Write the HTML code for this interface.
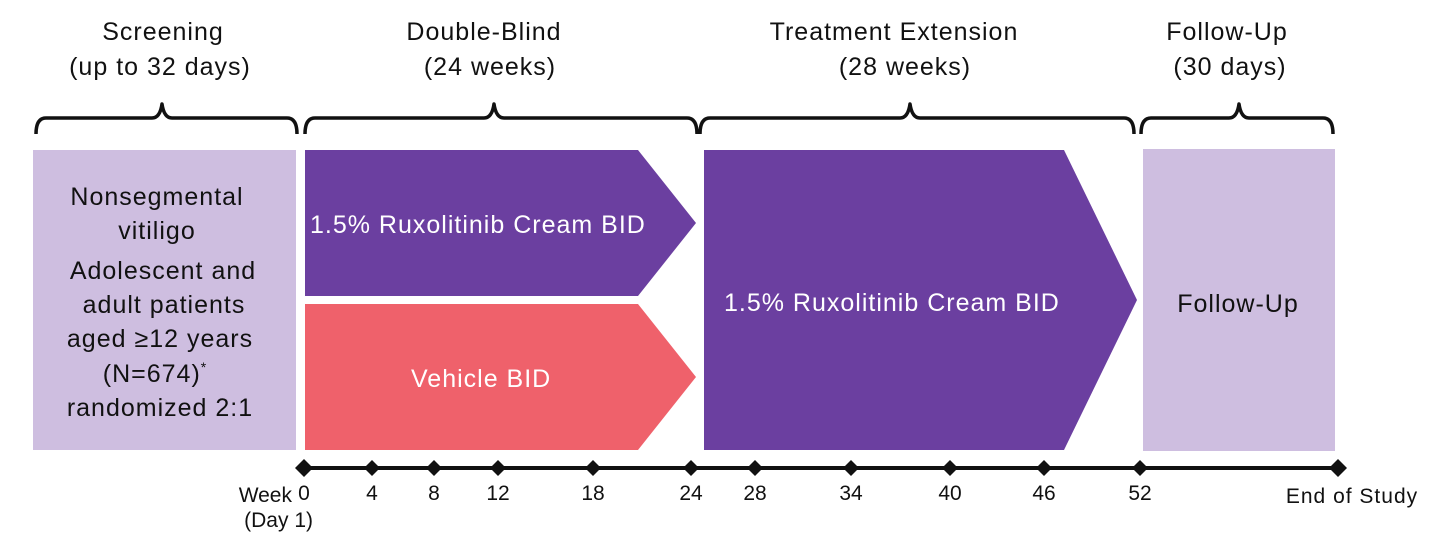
<!DOCTYPE html>
<html><head><meta charset="utf-8"><style>
html,body{margin:0;padding:0;background:#fff;}
svg{display:block;}
text{font-family:"Liberation Sans",sans-serif;}
</style></head><body>
<svg width="1440" height="536" viewBox="0 0 1440 536" xmlns="http://www.w3.org/2000/svg">
<g font-size="25" fill="#111" text-anchor="middle" letter-spacing="1">
<text x="163" y="40">Screening</text>
<text x="160" y="75">(up to 32 days)</text>
<text x="484" y="40">Double-Blind</text>
<text x="490" y="75">(24 weeks)</text>
<text x="894" y="40">Treatment Extension</text>
<text x="905" y="75">(28 weeks)</text>
<text x="1227" y="40">Follow-Up</text>
<text x="1230" y="75">(30 days)</text>
</g>
<g fill="none" stroke="#111" stroke-width="3.5" stroke-linejoin="round">
<path d="M36,134 Q36,118 46,118 L152,118 Q160,118 162,104 Q164,118 172,118 L287,118 Q297,118 297,134"/>
<path d="M305,134 Q305,118 315,118 L484,118 Q492,118 494,104 Q496,118 504,118 L687,118 Q697,118 697,134"/>
<path d="M700,134 Q700,118 710,118 L900,118 Q908,118 910,104 Q912,118 920,118 L1124,118 Q1134,118 1134,134"/>
<path d="M1141,134 Q1141,118 1151,118 L1229,118 Q1237,118 1239,104 Q1241,118 1249,118 L1323,118 Q1333,118 1333,134"/>
</g>
<rect x="33" y="150" width="263" height="300" fill="#cebee0"/>
<rect x="1143" y="149" width="192" height="302" fill="#cebee0"/>
<polygon points="305,150 638,150 696,223 638,296 305,296" fill="#6b3fa0"/>
<polygon points="305,304 638,304 696,377 638,450 305,450" fill="#ef616b"/>
<polygon points="704,150 1064,150 1137,300 1064,450 704,450" fill="#6b3fa0"/>
<g font-size="25" fill="#111" text-anchor="middle" letter-spacing="1">
<text x="157" y="205">Nonsegmental</text>
<text x="157" y="239">vitiligo</text>
<text x="163" y="279">Adolescent and</text>
<text x="164" y="313">adult patients</text>
<text x="160" y="347">aged ≥12 years</text>
<text x="155" y="382">(N=674)<tspan font-size="14" dy="-10">*</tspan></text>
<text x="160" y="416">randomized 2:1</text>
<text x="1238" y="312">Follow-Up</text>
</g>
<g font-size="25" fill="#fff" letter-spacing="1">
<text x="310" y="233">1.5%  Ruxolitinib Cream BID</text>
<text x="411" y="387">Vehicle BID</text>
<text x="724" y="311">1.5%  Ruxolitinib Cream BID</text>
</g>
<line x1="304" y1="468" x2="1338" y2="468" stroke="#111" stroke-width="4"/>
<g fill="#111">
<polygon points="304,459 313,468 304,477 295,468"/>
<polygon points="372,460 380,468 372,476 364,468"/>
<polygon points="434,460 442,468 434,476 426,468"/>
<polygon points="498,460 506,468 498,476 490,468"/>
<polygon points="593,460 601,468 593,476 585,468"/>
<polygon points="691,460 699,468 691,476 683,468"/>
<polygon points="755,460 763,468 755,476 747,468"/>
<polygon points="851,460 859,468 851,476 843,468"/>
<polygon points="950,460 958,468 950,476 942,468"/>
<polygon points="1044,460 1052,468 1044,476 1036,468"/>
<polygon points="1140,460 1148,468 1140,476 1132,468"/>
<polygon points="1338,459 1347,468 1338,477 1329,468"/>
</g>
<g font-size="21" fill="#111" text-anchor="middle">
<text x="304" y="500">0</text>
<text x="372" y="500">4</text>
<text x="434" y="500">8</text>
<text x="498" y="500">12</text>
<text x="593" y="500">18</text>
<text x="691" y="500">24</text>
<text x="755" y="500">28</text>
<text x="851" y="500">34</text>
<text x="950" y="500">40</text>
<text x="1044" y="500">46</text>
<text x="1140" y="500">52</text>
<text x="1352" y="503" letter-spacing="1">End of Study</text>
</g>
<g font-size="21" fill="#111" text-anchor="end">
<text x="292" y="502">Week</text>
<text x="313" y="527">(Day 1)</text>
</g>
</svg>
</body></html>
